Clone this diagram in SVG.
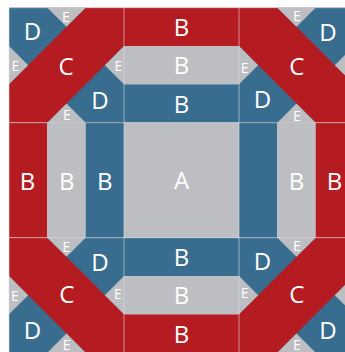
<svg xmlns="http://www.w3.org/2000/svg" xmlns:xlink="http://www.w3.org/1999/xlink" width="345" height="352" viewBox="0 0 345 352">
<style>
.r{fill:#b41c22}.b{fill:#386d90}.g{fill:#bdbec2}
text{font-family:"Open Sans","Noto Sans","Liberation Sans",sans-serif;fill:#fff;text-anchor:middle}
.L{font-size:24px}.S{font-size:14px}
.grid{stroke:#dcdce0;stroke-opacity:0.6;stroke-width:1;fill:none}
</style>
<defs>
<g id="corner">
<rect class="r" x="0" y="0" width="115" height="115"/>
<polygon class="b" points="0,0 76.667,0 0,76.667"/>
<polygon class="b" points="115,38.333 115,115 38.333,115"/>
<polygon class="g" points="38.333,0 76.667,0 57.5,19.167"/>
<polygon class="g" points="0,38.333 0,76.667 19.167,57.5"/>
<polygon class="g" points="38.333,115 76.667,115 57.5,95.833"/>
<polygon class="g" points="115,38.333 115,76.667 95.833,57.5"/>
</g>
</defs>
<g id="block">
<g id="cell-tl"><use xlink:href="#corner" transform="translate(9,7.7)"/></g>
<g id="cell-tr"><use xlink:href="#corner" transform="translate(354,7.7) scale(-1,1)"/></g>
<g id="cell-bl"><use xlink:href="#corner" transform="translate(124,237.7) scale(-1,1)"/></g>
<g id="cell-br"><use xlink:href="#corner" transform="translate(239,237.7)"/></g>
<g id="cell-top">
<rect class="r" x="124" y="7.7" width="115" height="38.333"/>
<rect class="g" x="124" y="46.033" width="115" height="38.333"/>
<rect class="b" x="124" y="84.367" width="115" height="38.333"/>
</g>
<g id="cell-bottom">
<rect class="b" x="124" y="237.7" width="115" height="38.333"/>
<rect class="g" x="124" y="276.033" width="115" height="38.333"/>
<rect class="r" x="124" y="314.367" width="115" height="38.333"/>
</g>
<g id="cell-left">
<rect class="r" x="9" y="122.7" width="38.333" height="115"/>
<rect class="g" x="47.333" y="122.7" width="38.333" height="115"/>
<rect class="b" x="85.667" y="122.7" width="38.333" height="115"/>
</g>
<g id="cell-right">
<rect class="b" x="239" y="122.7" width="38.333" height="115"/>
<rect class="g" x="277.333" y="122.7" width="38.333" height="115"/>
<rect class="r" x="315.667" y="122.7" width="38.333" height="115"/>
</g>
<g id="cell-center"><rect class="g" x="124" y="122.7" width="115" height="115"/></g>
</g>
<g id="connectors">
<path class="grid" d="M124,7.7V353M239,7.7V353M9,122.7H354M9,237.7H354M9,353V7.7H354"/>
</g>
<g id="labels">
<text class="L" x="32.5" y="40">D</text>
<text class="S" x="66" y="21.8">E</text>
<text class="S" x="15.3" y="70.5">E</text>
<text class="L" x="66" y="74.5">C</text>
<text class="S" x="118.3" y="70.5">E</text>
<text class="S" x="67" y="120.3">E</text>
<text class="L" x="100" y="108.5">D</text>
<text class="L" x="181.5" y="35.7">B</text>
<text class="L" x="181.5" y="74">B</text>
<text class="L" x="181.5" y="112.5">B</text>
<text class="S" x="297" y="21.3">E</text>
<text class="L" x="328" y="40.5">D</text>
<text class="S" x="244.7" y="72.5">E</text>
<text class="L" x="296.7" y="75.2">C</text>
<text class="L" x="262.5" y="108">D</text>
<text class="S" x="297" y="121">E</text>
<text class="L" x="27.5" y="189.7">B</text>
<text class="L" x="66.8" y="189.7">B</text>
<text class="L" x="104.8" y="189.7">B</text>
<text class="L" x="181.5" y="189.2">A</text>
<text class="L" x="296.5" y="189.5">B</text>
<text class="L" x="334.5" y="189.5">B</text>
<text class="S" x="66.3" y="251.8">E</text>
<text class="L" x="100" y="270.5">D</text>
<text class="S" x="15" y="301">E</text>
<text class="L" x="66.7" y="303">C</text>
<text class="S" x="118" y="299">E</text>
<text class="L" x="32.5" y="338.8">D</text>
<text class="S" x="66.7" y="349.5">E</text>
<text class="L" x="181.5" y="265.5">B</text>
<text class="L" x="181.5" y="304">B</text>
<text class="L" x="181.5" y="342.5">B</text>
<text class="S" x="297" y="251">E</text>
<text class="L" x="262.5" y="269.5">D</text>
<text class="S" x="244.7" y="298">E</text>
<text class="L" x="296.7" y="303.3">C</text>
<text class="L" x="328" y="339.2">D</text>
<text class="S" x="297" y="349.5">E</text>
</g>
</svg>
